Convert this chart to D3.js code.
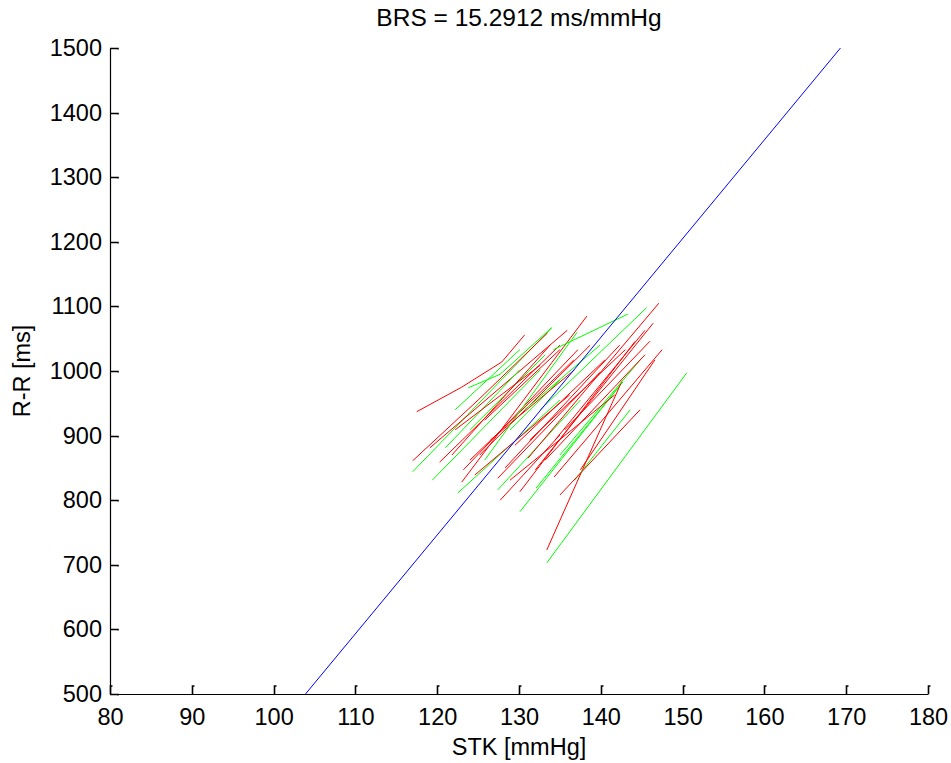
<!DOCTYPE html>
<html>
<head>
<meta charset="utf-8">
<script src="https://cdn.jsdelivr.net/npm/d3@7"></script>
<style>
  body { margin: 0; background: #ffffff; }
  svg { display: block; }
  text { font-family: "Liberation Sans", Arial, sans-serif; fill: #000; }
</style>
</head>
<body>
<svg id="chart" width="951" height="763"></svg>
<script>
var xTicks = [80, 90, 100, 110, 120, 130, 140, 150, 160, 170, 180];
var yTicks = [500, 600, 700, 800, 900, 1000, 1100, 1200, 1300, 1400, 1500];

var brsSlope = 15.2912;
var brsLine = [[103.9, 500], [169.3, 1500]];

// red sequences [STK, R-R]
var redSeqs = [
  [[117.5, 937], [123.0, 975], [127.9, 1014], [130.7, 1056]],
  [[117.0, 861], [125.0, 955], [133.5, 1059]],
  [[119.1, 881], [135.9, 1063]],
  [[120.3, 859], [135.0, 1040]],
  [[123.0, 828], [138.3, 1085]],
  [[123.2, 847], [137.2, 1033]],
  [[124.0, 862], [136.7, 1017]],
  [[125.2, 870], [138.7, 1040]],
  [[127.4, 834], [139.9, 998]],
  [[128.3, 850], [142.3, 1040]],
  [[130.1, 813], [144.2, 1046]],
  [[131.1, 865], [147.1, 1105]],
  [[134.3, 836], [147.5, 1033]],
  [[133.4, 723], [142.6, 985]],
  [[132.0, 847], [146.4, 1074]],
  [[133.2, 862], [145.4, 1025]],
  [[134.4, 893], [145.4, 1063]],
  [[135.6, 909], [146.0, 1046]],
  [[129.5, 885], [140.5, 1017]],
  [[126.5, 893], [136.8, 1002]],
  [[122.2, 909], [132.6, 1009]],
  [[124.6, 839], [136.2, 963]],
  [[128.9, 831], [141.7, 963]],
  [[135.0, 808], [144.8, 940]],
  [[137.5, 847], [146.6, 1017]],
  [[121.8, 870], [133.8, 1040]],
  [[125.8, 924], [135.0, 1033]],
  [[131.3, 893], [143.0, 1033]],
  [[127.7, 800], [135.0, 901]]
];

// green sequences [STK, R-R]
var greenSeqs = [
  [[117.0, 844], [134.0, 1067]],
  [[119.4, 831], [132.6, 1002]],
  [[122.5, 811], [135.0, 955]],
  [[123.8, 974], [127.7, 995], [134.0, 1067]],
  [[127.4, 816], [137.5, 955]],
  [[130.1, 782], [142.1, 974]],
  [[132.1, 819], [142.7, 983]],
  [[133.4, 703], [150.5, 997]],
  [[134.2, 1033], [143.3, 1088]],
  [[132.6, 940], [145.6, 1098]],
  [[121.0, 881], [130.1, 1002]],
  [[124.0, 909], [133.2, 1025]],
  [[125.8, 862], [137.1, 1060]],
  [[128.9, 909], [135.0, 986]],
  [[135.0, 870], [144.8, 1017]],
  [[136.8, 831], [143.6, 940]],
  [[122.2, 940], [130.1, 1033]],
  [[130.7, 940], [139.9, 1040]]
];

var svg = d3.select("#chart");
var plotLeft = 110, plotRight = 928, plotTop = 48, plotBottom = 694;
var tickLen = 8;

var xScale = d3.scaleLinear().domain([80, 180]).range([plotLeft, plotRight]);
var yScale = d3.scaleLinear().domain([500, 1500]).range([plotBottom, plotTop]);

var line = d3.line()
    .x(function(d) { return xScale(d[0]); })
    .y(function(d) { return yScale(d[1]); });

// sequences interleaved like the original plot order
var allSeqs = [];
for (var i = 0; i < Math.max(redSeqs.length, greenSeqs.length); i++) {
    if (i < redSeqs.length) allSeqs.push({pts: redSeqs[i], color: "#ff0000"});
    if (i < greenSeqs.length) allSeqs.push({pts: greenSeqs[i], color: "#00ff00"});
}

svg.append("g").selectAll("path")
    .data(allSeqs)
    .enter()
    .append("path")
    .attr("d", function(d) { return line(d.pts); })
    .attr("fill", "none")
    .attr("stroke", function(d) { return d.color; })
    .attr("stroke-width", 1);

svg.append("path")
    .attr("d", line(brsLine))
    .attr("fill", "none")
    .attr("stroke", "#0000ff")
    .attr("stroke-width", 1);

// axes, labels only; MATLAB style inward ticks drawn below
var xAxis = d3.axisBottom(xScale).tickValues(xTicks).tickSize(0).tickPadding(14);
var yAxis = d3.axisLeft(yScale).tickValues(yTicks).tickFormat(d3.format("d"))
    .tickSize(0).tickPadding(8);

var gx = svg.append("g")
    .attr("transform", "translate(0," + plotBottom + ")")
    .call(xAxis);
var gy = svg.append("g")
    .attr("transform", "translate(" + plotLeft + ",0)")
    .call(yAxis);

[gx, gy].forEach(function(g) {
    g.select(".domain").attr("stroke", "#000").attr("stroke-width", 1.2);
    g.selectAll(".tick text")
        .attr("font-size", 23.5)
        .attr("font-family", "Liberation Sans, Arial, sans-serif")
        .attr("fill", "#000");
});

// inward tick marks with a short serif, as MATLAB draws them
var tickPath = function(x0, y0, x1, y1, sx, sy) {
    return "M" + x0 + "," + y0 + "L" + x1 + "," + y1 + "l" + sx + "," + sy;
};

svg.append("g").selectAll("path")
    .data(xTicks)
    .enter()
    .append("path")
    .attr("d", function(d) {
        var x = Math.round(xScale(d)) + 0.5;
        return tickPath(x, plotBottom, x, plotBottom - tickLen, 2, 0);
    })
    .attr("fill", "none")
    .attr("stroke", "#000")
    .attr("stroke-width", 1.6);

svg.append("g").selectAll("path")
    .data(yTicks)
    .enter()
    .append("path")
    .attr("d", function(d) {
        var y = Math.round(yScale(d)) + 0.5;
        return tickPath(plotLeft, y, plotLeft + tickLen, y, 0, 1);
    })
    .attr("fill", "none")
    .attr("stroke", "#000")
    .attr("stroke-width", 1.6);

svg.append("text")
    .attr("x", (plotLeft + plotRight) / 2)
    .attr("y", 26)
    .attr("text-anchor", "middle")
    .attr("font-size", 24.5)
    .text("BRS = " + brsSlope.toFixed(4) + " ms/mmHg");

svg.append("text")
    .attr("x", (plotLeft + plotRight) / 2)
    .attr("y", 755)
    .attr("text-anchor", "middle")
    .attr("font-size", 23.5)
    .text("STK [mmHg]");

svg.append("text")
    .attr("transform", "translate(30," + ((plotTop + plotBottom) / 2) + ") rotate(-90)")
    .attr("text-anchor", "middle")
    .attr("font-size", 23.5)
    .text("R-R [ms]");
</script>
</body>
</html>
